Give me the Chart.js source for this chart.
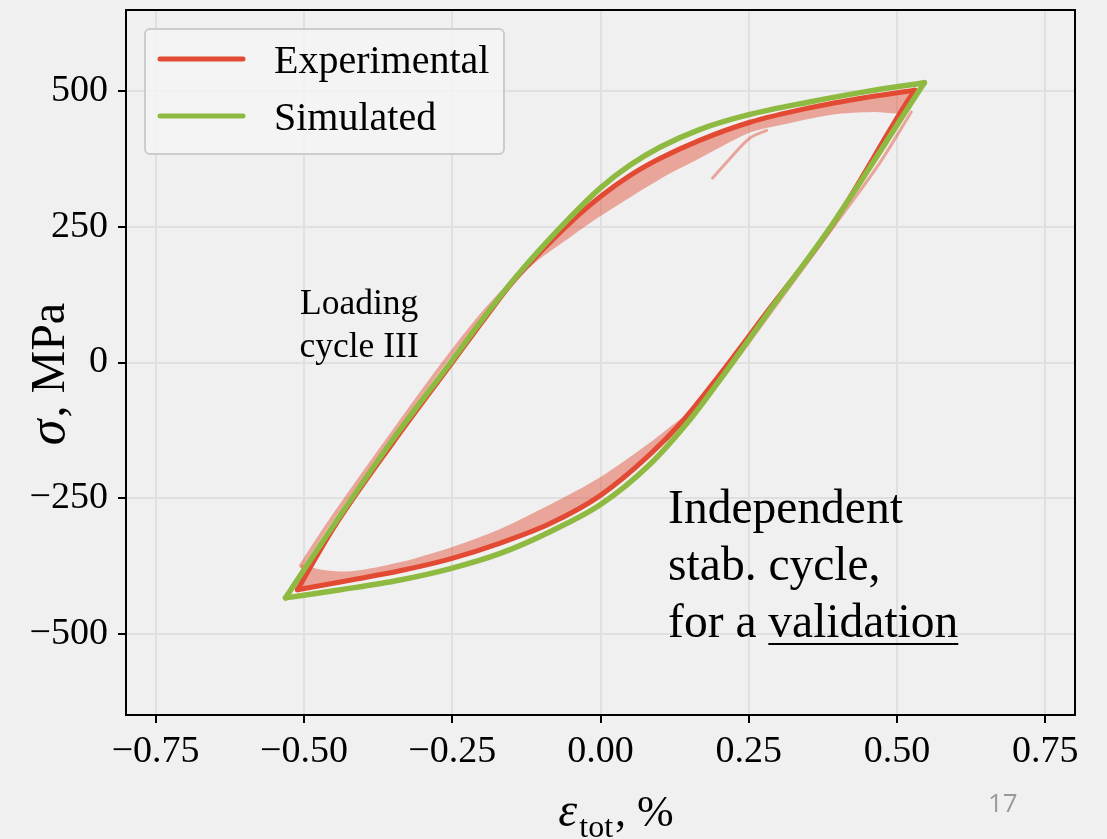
<!DOCTYPE html>
<html>
<head>
<meta charset="utf-8">
<script src="https://cdn.jsdelivr.net/npm/chart.js@4.4.1/dist/chart.umd.min.js"></script>
<style>
  html, body { margin: 0; padding: 0; background: #f0f0f0; }
  #wrap { width: 1107px; height: 839px; position: relative; }
</style>
</head>
<body>
<div id="wrap"><canvas id="chart" width="1107" height="839"></canvas></div>
<script>
// Ticks
const xTicks = [-0.75, -0.5, -0.25, 0, 0.25, 0.5, 0.75];
const yTicks = [-500, -250, 0, 250, 500];

// Simulated stabilised cycle (strain %, stress MPa), both branches from the lower tip to the upper tip
const simLoading = [[-0.531, -434], [-0.45, -300], [-0.35, -142], [-0.25, 4], [-0.2, 78], [-0.15, 148],
  [-0.1, 211], [-0.05, 269], [0, 322], [0.05, 364], [0.1, 397], [0.168, 430], [0.25, 457],
  [0.35, 480], [0.45, 500], [0.546, 516]];
const simUnloading = [[-0.531, -434], [-0.438, -419], [-0.338, -401], [-0.253, -380], [-0.169, -352],
  [-0.085, -312], [0, -262], [0.083, -188], [0.151, -105], [0.196, -40], [0.28, 88], [0.391, 255],
  [0.526, 482], [0.546, 516]];

// Experimental, last cycle
const expLoading = [[-0.511, -419], [-0.45, -305], [-0.35, -148], [-0.25, 0], [-0.2, 74], [-0.15, 146],
  [-0.1, 205], [-0.05, 259], [0, 306], [0.05, 345], [0.1, 376], [0.168, 410], [0.252, 443],
  [0.35, 469], [0.45, 489], [0.53, 502]];
const expUnloading = [[-0.511, -419], [-0.42, -401], [-0.338, -384], [-0.253, -362], [-0.169, -333],
  [-0.085, -297], [0, -245], [0.083, -170], [0.14, -106], [0.2, -24], [0.28, 92], [0.39, 252],
  [0.52, 486], [0.53, 502]];

// Experimental, earlier cycles (light band outlines and thin traces)
const bandUpper = [[-0.15, 146], [-0.05, 257], [0, 304], [0.1, 374], [0.168, 408], [0.252, 441],
  [0.35, 467], [0.45, 487], [0.52, 496], [0.515, 462], [0.46, 462], [0.39, 457], [0.3, 437],
  [0.25, 423], [0.168, 377], [0.1, 338], [0, 270], [-0.05, 232], [-0.1, 193], [-0.15, 146]];
const bandLower = [[-0.505, -372], [-0.47, -382], [-0.42, -385], [-0.337, -368], [-0.25, -340],
  [-0.169, -307], [-0.085, -262], [0, -211], [0.083, -148], [0.14, -101], [0.083, -170], [0, -245],
  [-0.085, -297], [-0.169, -333], [-0.253, -362], [-0.338, -384], [-0.42, -401], [-0.5, -417], [-0.505, -372]];
const earlyLoading = [[-0.505, -375], [-0.46, -300], [-0.36, -145], [-0.26, 5], [-0.2, 88], [-0.15, 148]];
const earlyUnloading = [[0.15, -100], [0.203, -32], [0.287, 92], [0.398, 258], [0.472, 370], [0.524, 462]];
const firstLoading = [[0.189, 340], [0.215, 372], [0.252, 414], [0.28, 428]];

const RED = '#E24A33';
const GREEN = '#8EBA42';
const PINK = 'rgba(226, 74, 51, 0.45)';
const SERIF = '"Liberation Serif", "Times New Roman", serif';

const pts = arr => arr.map(p => ({ x: p[0], y: p[1] }));

function curva(label, data, color, width, legenda) {
    return {
        label: label, data: pts(data), showLine: true, legenda: legenda,
        borderColor: color, backgroundColor: color, borderWidth: width,
        pointRadius: 0, cubicInterpolationMode: 'monotone', fill: false,
        borderJoinStyle: 'round', borderCapStyle: 'round'
    };
}

function faixa(data) {
    return {
        label: 'band', data: pts(data), showLine: true,
        borderColor: 'rgba(0,0,0,0)', backgroundColor: PINK, borderWidth: 0,
        pointRadius: 0, tension: 0.3, fill: 'shape'
    };
}

function fmtX(v) {
    return (v < 0 ? '\u2212' : '') + Math.abs(v).toFixed(2);
}
function fmtY(v) {
    return (v < 0 ? '\u2212' : '') + Math.abs(v);
}

// Frame, legend, annotations and axis titles
const extras = {
    id: 'extras',
    afterDraw(chart) {
        const { ctx, chartArea: a, scales: { x, y } } = chart;
        ctx.save();

        // frame
        ctx.strokeStyle = '#000';
        ctx.lineWidth = 2;
        ctx.strokeRect(a.left, a.top, a.right - a.left, a.bottom - a.top);

        // legend box
        const bx = a.left + 19, by = a.top + 19, bw = 359, bh = 125;
        ctx.beginPath();
        if (ctx.roundRect) ctx.roundRect(bx, by, bw, bh, 5); else ctx.rect(bx, by, bw, bh);
        ctx.fillStyle = 'rgba(245,245,245,0.8)';
        ctx.fill();
        ctx.strokeStyle = '#cccccc';
        ctx.lineWidth = 2;
        ctx.stroke();

        const itens = chart.data.datasets.filter(d => d.legenda);
        ctx.font = '40px ' + SERIF;
        ctx.textAlign = 'left';
        ctx.textBaseline = 'alphabetic';
        itens.forEach((d, i) => {
            const ly = by + 30 + i * 57;
            ctx.strokeStyle = d.borderColor;
            ctx.lineWidth = 5;
            ctx.lineCap = 'round';
            ctx.beginPath();
            ctx.moveTo(bx + 15, ly);
            ctx.lineTo(bx + 98, ly);
            ctx.stroke();
            ctx.fillStyle = '#000';
            ctx.fillText(d.label, bx + 129, ly + 14);
        });

        // "Loading cycle III"
        ctx.fillStyle = '#000';
        ctx.font = '35.5px ' + SERIF;
        ctx.textAlign = 'center';
        const cx = x.getPixelForValue(-0.407);
        ctx.fillText('Loading', cx, y.getPixelForValue(90));
        ctx.fillText('cycle III', cx, y.getPixelForValue(11));

        // "Independent stab. cycle, for a validation"
        ctx.font = '47.5px ' + SERIF;
        ctx.textAlign = 'left';
        const tx = x.getPixelForValue(0.114);
        ctx.fillText('Independent', tx, y.getPixelForValue(-296));
        ctx.fillText('stab. cycle,', tx, y.getPixelForValue(-401));
        const yl = y.getPixelForValue(-506);
        ctx.fillText('for a validation', tx, yl);
        const u0 = tx + ctx.measureText('for a ').width;
        const u1 = tx + ctx.measureText('for a validation').width;
        ctx.strokeStyle = '#000';
        ctx.lineWidth = 2;
        ctx.lineCap = 'butt';
        ctx.beginPath();
        ctx.moveTo(u0, yl + 7);
        ctx.lineTo(u1, yl + 7);
        ctx.stroke();

        // x title: epsilon_tot, %
        const fEps = 'italic 48px ' + SERIF, fSub = '32px ' + SERIF, fMain = '44px ' + SERIF;
        ctx.font = fEps; const w1 = ctx.measureText('\u03B5').width;
        ctx.font = fSub; const w2 = ctx.measureText('tot').width;
        ctx.font = fMain; const w3 = ctx.measureText(', %').width;
        let px = 616 - (w1 + w2 + w3 + 4) / 2;
        const base = 826;
        ctx.font = fEps; ctx.fillText('\u03B5', px, base); px += w1 + 2;
        ctx.font = fSub; ctx.fillText('tot', px, base + 11); px += w2 + 2;
        ctx.font = fMain; ctx.fillText(', %', px, base);

        // y title: sigma, MPa
        ctx.save();
        ctx.translate(64, 375);
        ctx.rotate(-Math.PI / 2);
        const fSig = 'italic 52px ' + SERIF, fMPa = '48px ' + SERIF;
        ctx.font = fSig; const s1 = ctx.measureText('\u03C3').width;
        ctx.font = fMPa; const s2 = ctx.measureText(', MPa').width;
        let sx = -(s1 + s2) / 2;
        ctx.font = fSig; ctx.fillText('\u03C3', sx, 0); sx += s1 + 2;
        ctx.font = fMPa; ctx.fillText(', MPa', sx, 0);
        ctx.restore();

        // page number
        ctx.font = '26px "Open Sans", sans-serif';
        ctx.fillStyle = '#9a9a9a';
        ctx.fillText('17', 988, 812);

        ctx.restore();
    }
};

const ctx = document.getElementById('chart').getContext('2d');
new Chart(ctx, {
    type: 'scatter',
    data: {
        datasets: [
            curva('Simulated', simLoading, GREEN, 5.5, false),
            curva('Simulated', simUnloading, GREEN, 5.5, false),
            curva('Experimental', expLoading, RED, 5, false),
            curva('Experimental', expUnloading, RED, 5, false),
            curva('earlier', earlyLoading, PINK, 4, false),
            curva('earlier', earlyUnloading, PINK, 3, false),
            curva('earlier', firstLoading, PINK, 3, false),
            faixa(bandUpper),
            faixa(bandLower),
            // entradas só para a legenda
            curva('Experimental', [], RED, 5, true),
            curva('Simulated', [], GREEN, 5, true)
        ]
    },
    options: {
        responsive: false,
        animation: false,
        layout: { padding: { top: 10, right: 32, left: 0, bottom: 0 } },
        plugins: { legend: { display: false }, tooltip: { enabled: false } },
        scales: {
            x: {
                type: 'linear', min: -0.8, max: 0.8,
                afterBuildTicks: s => { s.ticks = xTicks.map(v => ({ value: v })); },
                afterFit: s => { s.height = 124; s.paddingLeft = 0; s.paddingRight = 0; },
                grid: { color: '#e0e0e0', lineWidth: 2, tickColor: '#000', tickLength: 8, tickWidth: 2 },
                border: { display: true, color: '#000', width: 2 },
                ticks: { callback: fmtX, color: '#000', font: { family: SERIF, size: 38 }, padding: 6, maxRotation: 0 }
            },
            y: {
                type: 'linear', min: -650, max: 650,
                afterBuildTicks: s => { s.ticks = yTicks.map(v => ({ value: v })); },
                afterFit: s => { s.width = 126; s.paddingTop = 0; s.paddingBottom = 0; },
                grid: { color: '#e0e0e0', lineWidth: 2, tickColor: '#000', tickLength: 8, tickWidth: 2 },
                border: { display: true, color: '#000', width: 2 },
                ticks: { callback: fmtY, color: '#000', font: { family: SERIF, size: 38 }, padding: 10 }
            }
        }
    },
    plugins: [extras]
});
</script>
</body>
</html>
